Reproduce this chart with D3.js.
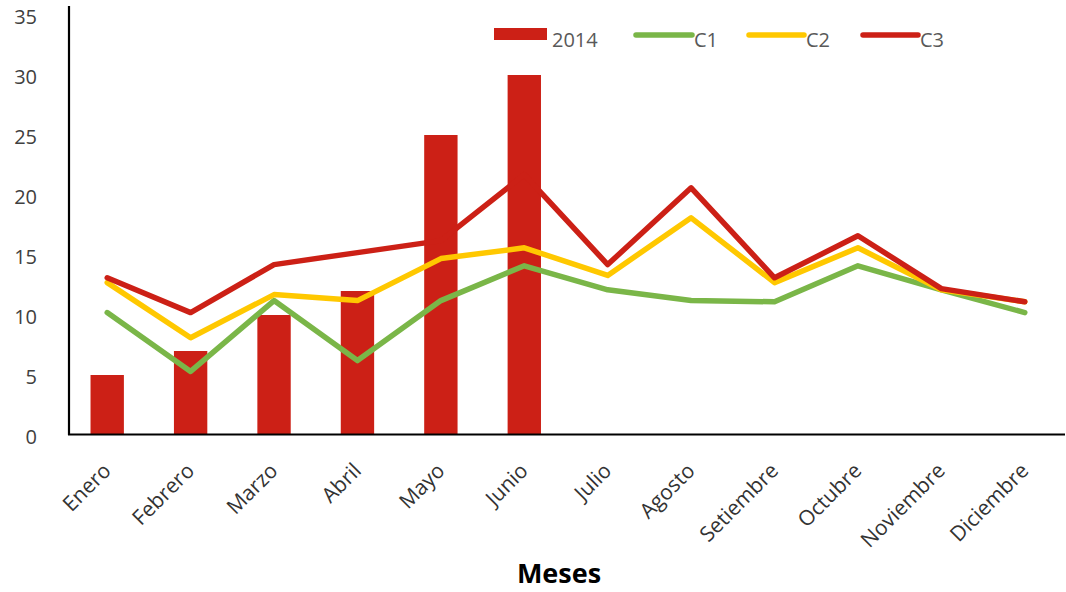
<!DOCTYPE html>
<html>
<head>
<meta charset="utf-8">
<script src="https://cdn.jsdelivr.net/npm/d3@7"></script>
<style>
  html, body { margin: 0; padding: 0; background: #fff; }
  svg { display: block; }
  text { font-family: "Open Sans", "DejaVu Sans", sans-serif; }
</style>
</head>
<body>
<svg id="chart" width="1066" height="592"></svg>
<script>
// Months on the category axis
const months = ["Enero", "Febrero", "Marzo", "Abril", "Mayo", "Junio",
                "Julio", "Agosto", "Setiembre", "Octubre", "Noviembre", "Diciembre"];
// 2014 monthly bars (only first half of the year recorded)
const values2014 = [5, 7, 10, 12, 25, 30, null, null, null, null, null, null];
// Reference curves
const c1 = [10.2, 5.3, 11.2, 6.2, 11.2, 14.1, 12.1, 11.2, 11.1, 14.1, 12.1, 10.2];
const c2 = [12.7, 8.1, 11.7, 11.2, 14.7, 15.6, 13.3, 18.1, 12.7, 15.6, 12.1, 11.1];
const c3 = [13.1, 10.2, 14.2, 15.2, 16.2, 21.7, 14.2, 20.6, 13.1, 16.6, 12.2, 11.1];
const yTicks = [0, 5, 10, 15, 20, 25, 30, 35];

const series = [
  { name: "C1", values: c1, color: "#7AB648" },
  { name: "C2", values: c2, color: "#FFC800" },
  { name: "C3", values: c3, color: "#CC2016" }
];
const barColor = "#CC2016";

const svg = d3.select("#chart");

const x = d3.scaleBand()
  .domain(months)
  .range([65.5, 1066.5])
  .paddingInner(0.6)
  .paddingOuter(0.3);

const y = d3.scaleLinear().domain([0, 35]).range([435, 15]);

const cx = m => x(m) + x.bandwidth() / 2;

// Bars
svg.append("g")
  .selectAll("rect")
  .data(months.map((m, i) => ({ m, v: values2014[i] })).filter(d => d.v != null))
  .join("rect")
  .attr("x", d => x(d.m))
  .attr("width", x.bandwidth())
  .attr("y", d => y(d.v))
  .attr("height", d => y(0) - y(d.v))
  .attr("fill", barColor);

// Lines
const line = d3.line()
  .x((d, i) => cx(months[i]))
  .y(d => y(d));

svg.append("g")
  .selectAll("path")
  .data(series)
  .join("path")
  .attr("d", s => line(s.values))
  .attr("fill", "none")
  .attr("stroke", s => s.color)
  .attr("stroke-width", 5.5)
  .attr("stroke-linejoin", "round")
  .attr("stroke-linecap", "round");

// Y axis: labels only, plus the vertical axis line
const yAxis = d3.axisLeft(y).tickValues(yTicks).tickSize(0).tickPadding(0);
const gy = svg.append("g").attr("transform", "translate(37,2)").call(yAxis);
gy.select(".domain").remove();
gy.selectAll("text")
  .attr("font-size", 20)
  .attr("fill", "#404040")
  .style("font-family", "'Open Sans', sans-serif");

svg.append("line")
  .attr("x1", 69).attr("x2", 69)
  .attr("y1", 6).attr("y2", 435)
  .attr("stroke", "#000").attr("stroke-width", 2.2);

// X axis line and rotated month labels
const xAxis = d3.axisBottom(x).tickSize(0).tickPadding(0);
const gx = svg.append("g").attr("transform", "translate(0,434)").call(xAxis);
gx.select(".domain").remove();
svg.append("line")
  .attr("x1", 68).attr("x2", 1065)
  .attr("y1", 434.5).attr("y2", 434.5)
  .attr("stroke", "#000").attr("stroke-width", 2.2);

gx.selectAll(".tick text")
  .attr("font-size", 21)
  .attr("fill", "#333")
  .attr("text-anchor", "end")
  .attr("dy", null)
  .attr("y", 0)
  .attr("transform", "translate(5,38) rotate(-45)")
  .style("font-family", "'Open Sans', sans-serif");

// Axis title
svg.append("text")
  .attr("x", 559)
  .attr("y", 583)
  .attr("text-anchor", "middle")
  .attr("font-size", 27)
  .attr("font-weight", "bold")
  .attr("fill", "#000")
  .text("Meses");

// Legend
const legend = svg.append("g");
legend.append("rect")
  .attr("x", 494).attr("y", 28).attr("width", 53).attr("height", 12)
  .attr("fill", barColor);
legend.append("text")
  .attr("x", 552).attr("y", 47)
  .attr("font-size", 20).attr("fill", "#595959")
  .text("2014");

const legendLines = [
  { s: series[0], x1: 636, x2: 692, tx: 694 },
  { s: series[1], x1: 749, x2: 804, tx: 806 },
  { s: series[2], x1: 863, x2: 918, tx: 920 }
];
legendLines.forEach(d => {
  legend.append("line")
    .attr("x1", d.x1).attr("x2", d.x2)
    .attr("y1", 35).attr("y2", 35)
    .attr("stroke", d.s.color).attr("stroke-width", 5.5)
    .attr("stroke-linecap", "round");
  legend.append("text")
    .attr("x", d.tx).attr("y", 47)
    .attr("font-size", 20).attr("fill", "#595959")
    .text(d.s.name);
});
</script>
</body>
</html>
